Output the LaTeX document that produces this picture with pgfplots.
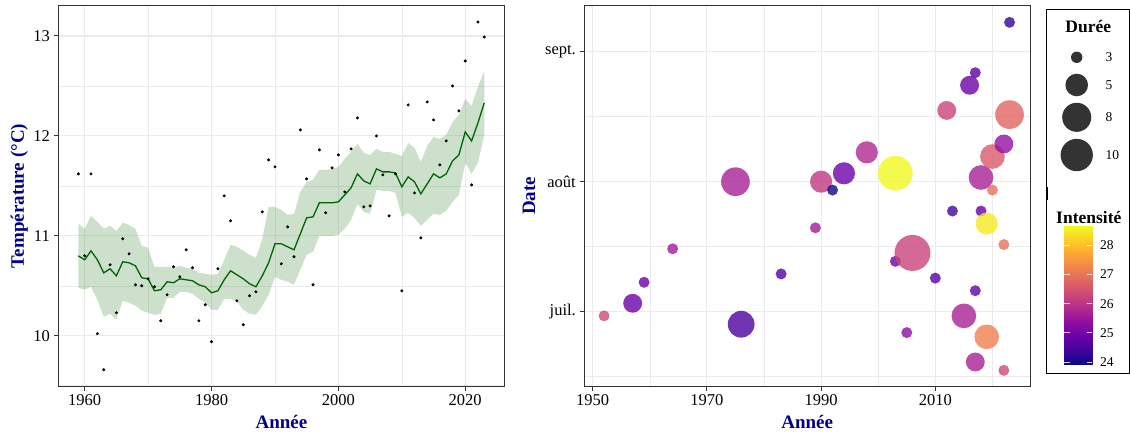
\documentclass[border=0pt]{standalone}
\usepackage{fontspec}
\setmainfont{Liberation Serif}
\usepackage{pgfplots}
\usepackage{pgfplotstable}
\pgfplotsset{compat=1.18}
\usepgfplotslibrary{fillbetween}

\definecolor{gridc}{HTML}{EBEBEB}
\definecolor{bordc}{HTML}{333333}
\definecolor{titc}{HTML}{00008B}
\definecolor{vert}{HTML}{006400}

\pgfplotsset{colormap={plasma}{rgb255=(13,8,135) rgb255=(65,4,157) rgb255=(106,0,168)
    rgb255=(143,13,164) rgb255=(177,42,144) rgb255=(204,71,120)
    rgb255=(225,100,98) rgb255=(242,132,75) rgb255=(252,166,54)
    rgb255=(252,206,37) rgb255=(240,249,33)}}

\pgfplotstableread{
annee temp moy lo hi
1959 11.62 10.80 10.48 11.12
1960 10.80 10.76 10.46 11.07
1961 11.62 10.85 10.49 11.20
1962 10.02 10.76 10.36 11.14
1963 9.66 10.63 10.19 11.07
1964 10.71 10.67 10.22 11.10
1965 10.23 10.60 10.16 11.05
1966 10.97 10.74 10.35 11.13
1967 10.82 10.73 10.33 11.11
1968 10.51 10.70 10.30 11.07
1969 10.50 10.58 10.25 10.90
1970 10.57 10.57 10.23 10.88
1971 10.49 10.45 10.21 10.69
1972 10.15 10.46 10.22 10.69
1973 10.41 10.54 10.38 10.69
1974 10.69 10.53 10.38 10.68
1975 10.59 10.57 10.44 10.70
1976 10.86 10.56 10.44 10.68
1977 10.68 10.55 10.42 10.67
1978 10.15 10.51 10.37 10.63
1979 10.31 10.49 10.33 10.62
1980 9.94 10.43 10.26 10.61
1981 10.67 10.45 10.26 10.62
1982 11.40 10.56 10.37 10.76
1983 11.15 10.65 10.37 10.91
1984 10.35 10.61 10.34 10.89
1985 10.11 10.57 10.26 10.85
1986 10.40 10.52 10.22 10.81
1987 10.44 10.49 10.21 10.78
1988 11.24 10.60 10.30 10.97
1989 11.76 10.73 10.41 11.29
1990 11.69 10.92 10.59 11.29
1991 10.72 10.92 10.56 11.26
1992 11.09 10.89 10.54 11.21
1993 10.79 10.86 10.51 11.22
1994 12.06 11.02 10.66 11.44
1995 11.57 11.18 10.81 11.54
1996 10.51 11.19 10.84 11.56
1997 11.86 11.33 11.00 11.66
1998 11.23 11.33 11.00 11.66
1999 11.68 11.33 11.00 11.67
2000 11.81 11.34 11.01 11.69
2001 11.44 11.41 11.07 11.77
2002 11.87 11.48 11.16 11.84
2003 12.18 11.62 11.32 11.92
2004 11.29 11.55 11.24 11.83
2005 11.30 11.52 11.22 11.81
2006 12.00 11.67 11.46 11.87
2007 11.61 11.64 11.45 11.84
2008 11.20 11.64 11.45 11.84
2009 11.62 11.63 11.43 11.82
2010 10.45 11.49 11.19 11.80
2011 12.31 11.59 11.23 11.93
2012 11.43 11.54 11.18 11.88
2013 10.98 11.42 11.10 11.74
2014 12.34 11.52 11.16 11.90
2015 12.16 11.62 11.22 11.99
2016 11.71 11.58 11.21 11.97
2017 11.95 11.62 11.25 12.01
2018 12.50 11.75 11.34 12.14
2019 12.25 11.81 11.41 12.21
2020 12.75 12.04 11.73 12.37
2021 11.51 11.95 11.62 12.30
2022 13.14 12.13 11.73 12.49
2023 12.99 12.33 12.01 12.65
}\temps

\pgfplotstableread{
annee jour duree intensite
1952 181 3 26.35
1957 184 4 24.9
1959 189 3 24.9
1964 197 3 25.6
1975 213 8 25.7
1976 179 7 24.55
1983 191 3 24.6
1989 202 3 25.6
1990 213 5 26.05
1992 211 3 23.93
1994 215 5 24.9
1998 220 5 25.8
2003 215 12 28.66
2003 194 3 24.9
2005 177 3 25.35
2006 196 13 26.25
2010 190 3 24.6
2012 230 4 26.25
2013 206 3 24.4
2015 181 6 25.7
2016 236 4 24.9
2017 239 3 24.75
2017 187 3 24.8
2017 170 4 25.7
2018 214 6 25.7
2018 206 3 24.85
2019 203 5 28.5
2019 176 6 27.15
2020 219 6 26.6
2020 211 3 26.96
2022 222 4 25.4
2022 198 3 26.96
2022 168 3 26.35
2023 251 3 24.26
2023 229 8 26.77
}\vagues

\pgfplotstableread{
x y duree
1076.7 374.7 3
1076.7 347.0 5
1076.7 314.7 8
1076.7 277.0 10
}\legtaille

\pgfplotsset{
  panneau/.style={
    scale only axis, height=381.4pt,
    axis line style={bordc, line width=1pt},
    grid=both,
    major grid style={gridc, line width=1.1pt},
    minor grid style={gridc, line width=0.55pt},
    tick style={bordc, line width=1pt},
    major tick length=4pt, minor tick length=0pt,
    tick align=outside, tick pos=left,
    ticklabel style={font=\fontsize{16.5}{18}\selectfont, inner sep=0pt},
    xticklabel shift=4pt, yticklabel shift=4.3pt,
    /pgf/number format/assume math mode=true,
    /pgf/number format/1000 sep={},
    label style={font=\fontsize{19}{21}\selectfont\bfseries, text=titc},
    xlabel style={at={(axis description cs:0.5,-0.1091)}, anchor=base},
  },
  barre/.style={at={(1064pt,67.7pt)}, anchor=south west, scale only axis,
    width=28.3pt, height=138.6pt, xmin=0, xmax=1, ymin=23.93, ymax=28.66,
    point meta min=23.93, point meta max=28.66},
}

\begin{document}
\begin{tikzpicture}

\begin{axis}[panneau, at={(58.3pt,45.3pt)}, anchor=south west, width=446.2pt,
  xmin=1955.84, xmax=2026.19, ymin=9.49, ymax=13.307,
  xtick={1960,1980,2000,2020}, minor xtick={1970,1990,2010},
  ytick={10,11,12,13}, minor ytick={9.5,10.5,11.5,12.5},
  xlabel={Année}, ylabel={Température (°C)},
  ylabel style={at={(axis description cs:-0.0769,0.5)}, anchor=base},
]
\addplot[name path=hi, draw=none, forget plot] table[x=annee,y=hi]{\temps};
\addplot[name path=lo, draw=none, forget plot] table[x=annee,y=lo]{\temps};
\addplot[fill=vert, fill opacity=0.2, draw=none] fill between[of=hi and lo];
\addplot[only marks, mark=*, mark size=1.3pt, black] table[x=annee,y=temp]{\temps};
\addplot[vert, line width=1.3pt] table[x=annee,y=moy]{\temps};
\end{axis}

\begin{axis}[panneau, at={(584.3pt,45.3pt)}, anchor=south west, width=445.7pt,
  xmin=1948.53, xmax=2026.58, ymin=164.1, ymax=255.07,
  xtick={1950,1970,1990,2010}, minor xtick={1960,1980,2000,2020},
  ytick={182,213,244}, yticklabels={juil.,août,sept.},
  minor ytick={166.5,197.5,228.5},
  xlabel={Année}, ylabel={Date},
  ylabel style={at={(axis description cs:-0.1106,0.5)}, anchor=base},
  point meta min=23.93, point meta max=28.66,
]
\addplot[scatter, only marks, mark=*, scatter src=explicit,
  scatter/use mapped color={draw=mapped color, draw opacity=0, fill=mapped color, fill opacity=0.8},
  visualization depends on={5.5+3.95*sqrt(\thisrow{duree}-3) \as \rad},
  scatter/@pre marker code/.append style={/tikz/mark size=\rad},
] table[x=annee, y=jour, meta=intensite]{\vagues};
\end{axis}

% size legend
\begin{axis}[at={(0pt,0pt)}, anchor=south west, scale only axis,
  width=1130pt, height=432pt, xmin=0, xmax=1130, ymin=0, ymax=432,
  hide axis, clip=false]
\addplot[scatter, only marks, mark=*, point meta=\thisrow{duree},
  scatter/use mapped color={draw=black, draw opacity=0, fill=black, fill opacity=0.8},
  visualization depends on={5.7+3.95*sqrt(\thisrow{duree}-3) \as \rad},
  scatter/@pre marker code/.append style={/tikz/mark size=\rad},
] table[x=x, y=y]{\legtaille};
\end{axis}

% colour bar
\begin{axis}[barre,
  axis line style={draw=none},
  xtick=\empty, ytick={24,25,26,27,28},
  major tick length=0pt,
  yticklabel pos=right,
  yticklabel style={font=\fontsize{13.5}{15}\selectfont, inner sep=0pt, anchor=west},
  yticklabel shift=7.7pt,
  /pgf/number format/assume math mode=true,
]
\addplot[surf, shader=interp, mesh/rows=2, mesh/cols=2, point meta=y]
  coordinates {(0,23.93) (1,23.93) (0,28.66) (1,28.66)};
\end{axis}
% colour bar ticks (drawn over the shading)
\begin{axis}[barre, hide axis, clip=false]
\pgfplotsinvokeforeach{24,25,26,27,28}{
  \addplot[draw=white, draw opacity=0.8, line width=1pt, forget plot] coordinates {(0,#1) (0.2,#1)};
  \addplot[draw=white, draw opacity=0.8, line width=1pt, forget plot] coordinates {(0.8,#1) (1,#1)};
}
\end{axis}

\draw[black, line width=0.8pt] (1046.7pt,59pt) rectangle (1129.4pt,422.7pt);
\draw[black, line width=2.4pt] (1046.7pt,245pt) -- (1046.7pt,232pt);
\node[font=\fontsize{17.5}{19}\selectfont\bfseries, anchor=base] at (1088.3pt,399.3pt) {Durée};
\node[font=\fontsize{13.5}{15}\selectfont, anchor=west, inner sep=0pt] at (1105.5pt,374.7pt) {3};
\node[font=\fontsize{13.5}{15}\selectfont, anchor=west, inner sep=0pt] at (1105.5pt,347.0pt) {5};
\node[font=\fontsize{13.5}{15}\selectfont, anchor=west, inner sep=0pt] at (1105.5pt,314.7pt) {8};
\node[font=\fontsize{13.5}{15}\selectfont, anchor=west, inner sep=0pt] at (1105.5pt,277.0pt) {10};
\node[font=\fontsize{17.5}{19}\selectfont\bfseries, anchor=base] at (1088.8pt,209pt) {Intensité};

\pgfresetboundingbox
\path[use as bounding box] (0pt,0pt) rectangle (1130pt,432pt);
\end{tikzpicture}
\end{document}
